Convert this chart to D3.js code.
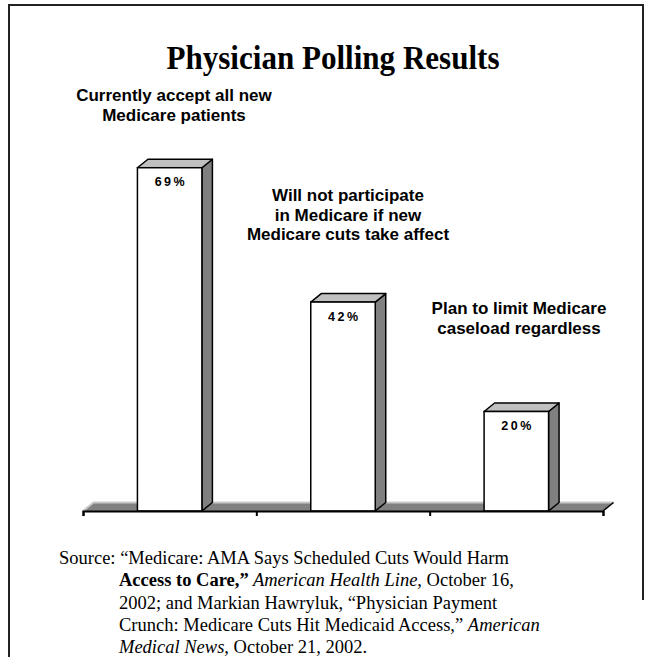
<!DOCTYPE html>
<html>
<head>
<meta charset="utf-8">
<script src="https://cdn.jsdelivr.net/npm/d3@7"></script>
<style>
  html, body { margin: 0; padding: 0; background: #fff; }
  svg { display: block; }
</style>
</head>
<body>
<svg id="chart" width="647" height="657"></svg>
<script>
// Poll categories (each entry is a multi-line label), values in percent
const categories = [
  ["Currently accept all new", "Medicare patients"],
  ["Will not participate", "in Medicare if new", "Medicare cuts take affect"],
  ["Plan to limit Medicare", "caseload regardless"]
];
const values = [69, 42, 20];
const valueLabels = ["69%", "42%", "20%"];
const title = "Physician Polling Results";

const svg = d3.select("#chart");
const W = 647, H = 657;

// slide frame
svg.append("path")
  .attr("d", `M9,${H} L9,5 L643,5 L643,600`)
  .attr("fill", "none")
  .attr("stroke", "#222")
  .attr("stroke-width", 2);

// plot geometry
const x0 = 83, x1 = 603;
const floorY = 511;
const depthX = 10.5, depthY = -8.5;

const x = d3.scaleBand()
  .domain(d3.range(categories.length))
  .range([x0, x1])
  .paddingInner(0.628)
  .paddingOuter(0.314);

const y = d3.scaleLinear().domain([0, 100]).range([floorY, 13.5]);

// title
svg.append("text")
  .attr("x", 333)
  .attr("y", 69)
  .attr("text-anchor", "middle")
  .attr("textLength", 333)
  .attr("lengthAdjust", "spacingAndGlyphs")
  .style("font-family", "'Liberation Serif', 'Times New Roman', serif")
  .style("font-weight", "bold")
  .style("font-size", "33px")
  .text(title);

// floor slab
const g = svg.append("g");
g.append("path")
  .attr("d", `M${x0},${floorY} L${x0 + depthX},${floorY + depthY} L${x1 + depthX},${floorY + depthY} L${x1},${floorY} Z`)
  .attr("fill", "#808080");
g.append("path")
  .attr("d", `M${x0},${floorY} L${x0 + depthX},${floorY + depthY} L${x1 + depthX},${floorY + depthY}`)
  .attr("fill", "none")
  .attr("stroke", "#c8c8c8")
  .attr("stroke-width", 2);
g.append("line")
  .attr("x1", x1).attr("y1", floorY)
  .attr("x2", x1 + depthX).attr("y2", floorY + depthY)
  .attr("stroke", "#000").attr("stroke-width", 1.5);

// bars: front, top and side faces
const bars = g.selectAll("g.bar")
  .data(values)
  .join("g")
  .attr("class", "bar");

bars.append("path") // side
  .attr("d", (d, i) => {
    const r = x(i) + x.bandwidth(), t = y(d);
    return `M${r},${t} L${r + depthX},${t + depthY} L${r + depthX},${floorY + depthY} L${r},${floorY} Z`;
  })
  .attr("fill", "#808080")
  .attr("stroke", "#000")
  .attr("stroke-width", 1.5)
  .attr("stroke-linejoin", "round");

bars.append("path") // top
  .attr("d", (d, i) => {
    const l = x(i), r = l + x.bandwidth(), t = y(d);
    return `M${l},${t} L${l + depthX},${t + depthY} L${r + depthX},${t + depthY} L${r},${t} Z`;
  })
  .attr("fill", "#c0c0c0")
  .attr("stroke", "#000")
  .attr("stroke-width", 1.5)
  .attr("stroke-linejoin", "round");

bars.append("rect") // front
  .attr("x", (d, i) => x(i))
  .attr("y", d => y(d))
  .attr("width", x.bandwidth())
  .attr("height", d => floorY - y(d))
  .attr("fill", "#fff")
  .attr("stroke", "#000")
  .attr("stroke-width", 1.5);

bars.append("text")
  .attr("x", (d, i) => x(i) + x.bandwidth() / 2 + 1.25)
  .attr("y", d => y(d) + 18.5)
  .attr("text-anchor", "middle")
  .style("font-family", "'Liberation Sans', Arial, sans-serif")
  .style("font-weight", "bold")
  .style("font-size", "12.5px")
  .style("letter-spacing", "2.5px")
  .text((d, i) => valueLabels[i]);

// category axis with ticks at the band boundaries
const tickScale = d3.scaleLinear().domain([0, categories.length]).range([x0, x1]);
const axis = svg.append("g")
  .attr("transform", `translate(0,${floorY})`)
  .call(d3.axisBottom(tickScale)
    .tickValues(d3.range(categories.length + 1))
    .tickFormat("")
    .tickSize(5)
    .tickSizeOuter(5));
axis.selectAll("path, line").attr("stroke", "#000").attr("stroke-width", 2);

// category labels above the bars
const labelPos = [
  { cx: 174, y: 101 },
  { cx: 348, y: 201 },
  { cx: 519, y: 314 }
];
categories.forEach((lines, i) => {
  const t = svg.append("text")
    .attr("text-anchor", "middle")
    .style("font-family", "'Liberation Sans', Arial, sans-serif")
    .style("font-weight", "bold")
    .style("font-size", "17px");
  lines.forEach((ln, j) => {
    t.append("tspan")
      .attr("x", labelPos[i].cx)
      .attr("y", labelPos[i].y + j * 19.5)
      .text(ln);
  });
});

// source note
const src = svg.append("text")
  .style("font-family", "'Liberation Serif', 'Times New Roman', serif")
  .style("font-size", "18.5px");
const srcLines = [
  [{ t: "Source: \u201cMedicare: AMA Says Scheduled Cuts Would Harm", x: 59 }],
  [{ t: "Access to Care,\u201d", b: true, x: 119 }, { t: " American Health Line,", i: true }, { t: " October 16," }],
  [{ t: "2002; and Markian Hawryluk, \u201cPhysician Payment", x: 119 }],
  [{ t: "Crunch: Medicare Cuts Hit Medicaid Access,\u201d ", x: 119 }, { t: "American", i: true }],
  [{ t: "Medical News,", i: true, x: 119 }, { t: " October 21, 2002." }]
];
srcLines.forEach((parts, j) => {
  parts.forEach((p, k) => {
    const ts = src.append("tspan").text(p.t);
    if (k === 0) ts.attr("x", p.x).attr("y", 564 + j * 22.3);
    if (p.b) ts.style("font-weight", "bold");
    if (p.i) ts.style("font-style", "italic");
  });
});
</script>
</body>
</html>
